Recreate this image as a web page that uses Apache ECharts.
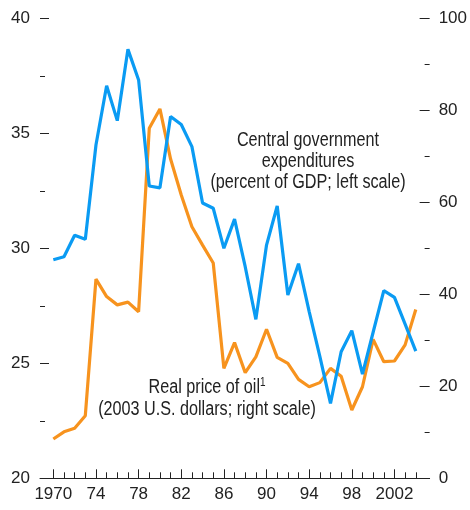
<!DOCTYPE html>
<html>
<head>
<meta charset="utf-8">
<script src="https://cdn.jsdelivr.net/npm/echarts@6/dist/echarts.min.js"></script>
<style>
html,body{margin:0;padding:0;background:#fff;}
#chart{width:470px;height:510px;}
</style>
</head>
<body>
<div id="chart"></div>
<script>
var years = [1970,1971,1972,1973,1974,1975,1976,1977,1978,1979,1980,1981,1982,1983,1984,1985,1986,1987,1988,1989,1990,1991,1992,1993,1994,1995,1996,1997,1998,1999,2000,2001,2002,2003,2004];
var govExpenditure = [29.5,29.63,30.57,30.39,34.49,37.07,35.55,38.65,37.32,32.71,32.63,35.73,35.38,34.42,31.97,31.74,30.0,31.27,29.2,26.91,30.14,31.84,27.97,29.33,27.25,25.3,23.26,25.5,26.42,24.53,26.35,28.16,27.87,26.7,25.53];
var oilPrice = [8.54,10.1,10.87,13.6,43.3,39.5,37.7,38.3,36.2,76.1,80.3,69.4,61.6,54.7,50.7,46.8,23.9,29.5,22.96,26.4,32.4,26.3,25.0,21.5,19.9,20.8,23.9,22.2,14.85,19.9,30.2,25.35,25.5,29.0,36.7];
var xLabelYears = [1970,1974,1978,1982,1986,1990,1994,1998,2002];
var xLabelText = {1970:'1970',1974:'74',1978:'78',1982:'82',1986:'86',1990:'90',1994:'94',1998:'98',2002:'2002'};

var FONT = "'Liberation Sans','Arial',sans-serif";
var TXT = '#222';

function pairs(vals){ return years.map(function(y,i){ return [y, vals[i]]; }); }

var chart = echarts.init(document.getElementById('chart'));
chart.setOption({
  animation:false,
  backgroundColor:'#fff',
  grid:{left:40,right:40,top:18.3,bottom:31.7,containLabel:false},
  xAxis:[{
    type:'value', min:1968.75, max:2005.3, position:'bottom',
    axisLine:{show:true,lineStyle:{color:'#222',width:1}},
    axisTick:{show:true,inside:true,length:9,customValues:xLabelYears,lineStyle:{color:'#222',width:1}},
    axisLabel:{show:true,customValues:xLabelYears,margin:8,fontFamily:FONT,fontSize:17,color:TXT,
      formatter:function(v){ return xLabelText[v] || ''; }},
    splitLine:{show:false}
  },{
    type:'value', min:1968.75, max:2005.3, position:'bottom', gridIndex:0,
    axisLine:{show:false},
    axisTick:{show:true,inside:true,length:6,customValues:years,lineStyle:{color:'#222',width:1}},
    axisLabel:{show:false},
    splitLine:{show:false}
  }],
  yAxis:[{
    type:'value', min:20, max:40, interval:5, position:'left',
    axisLine:{show:false},
    axisTick:{show:true,inside:true,length:9,lineStyle:{color:'#222',width:1}},
    minorTick:{show:true,splitNumber:2,length:5,lineStyle:{color:'#222',width:1}},
    axisLabel:{margin:10,fontFamily:FONT,fontSize:17,color:TXT},
    splitLine:{show:false}
  },{
    type:'value', min:0, max:100, interval:20, position:'right',
    axisLine:{show:false},
    axisTick:{show:true,inside:true,length:10,lineStyle:{color:'#222',width:1}},
    minorTick:{show:true,splitNumber:2,length:5,lineStyle:{color:'#222',width:1}},
    axisLabel:{margin:9,fontFamily:FONT,fontSize:17,color:TXT},
    splitLine:{show:false}
  }],
  series:[{
    name:'Real price of oil', type:'line', xAxisIndex:0, yAxisIndex:1,
    data:pairs(oilPrice), showSymbol:false, symbol:'none',
    lineStyle:{color:'#f7931e',width:3.2}, z:2
  },{
    name:'Central government expenditures', type:'line', xAxisIndex:0, yAxisIndex:0,
    data:pairs(govExpenditure), showSymbol:false, symbol:'none',
    lineStyle:{color:'#0a9bf3',width:3.2}, z:3
  }],
  graphic:[{
    type:'text', x:308, y:130, scaleX:0.83, z:10,
    style:{text:'Central government\nexpenditures\n(percent of GDP; left scale)',
      x:0, y:0, align:'center', verticalAlign:'top',
      font:'19.5px '+FONT, lineHeight:21, fill:TXT}
  },{
    type:'text', x:207, y:377, scaleX:0.83, z:10,
    style:{
      x:0, y:0, align:'center', verticalAlign:'top',
      rich:{sup:{fontSize:12,verticalAlign:'top',lineHeight:12,fill:TXT,fontFamily:FONT}},
      text:'Real price of oil{sup|1}\n(2003 U.S. dollars; right scale)',
      font:'19.5px '+FONT, lineHeight:22, fill:TXT}
  }]
});
</script>
</body>
</html>
